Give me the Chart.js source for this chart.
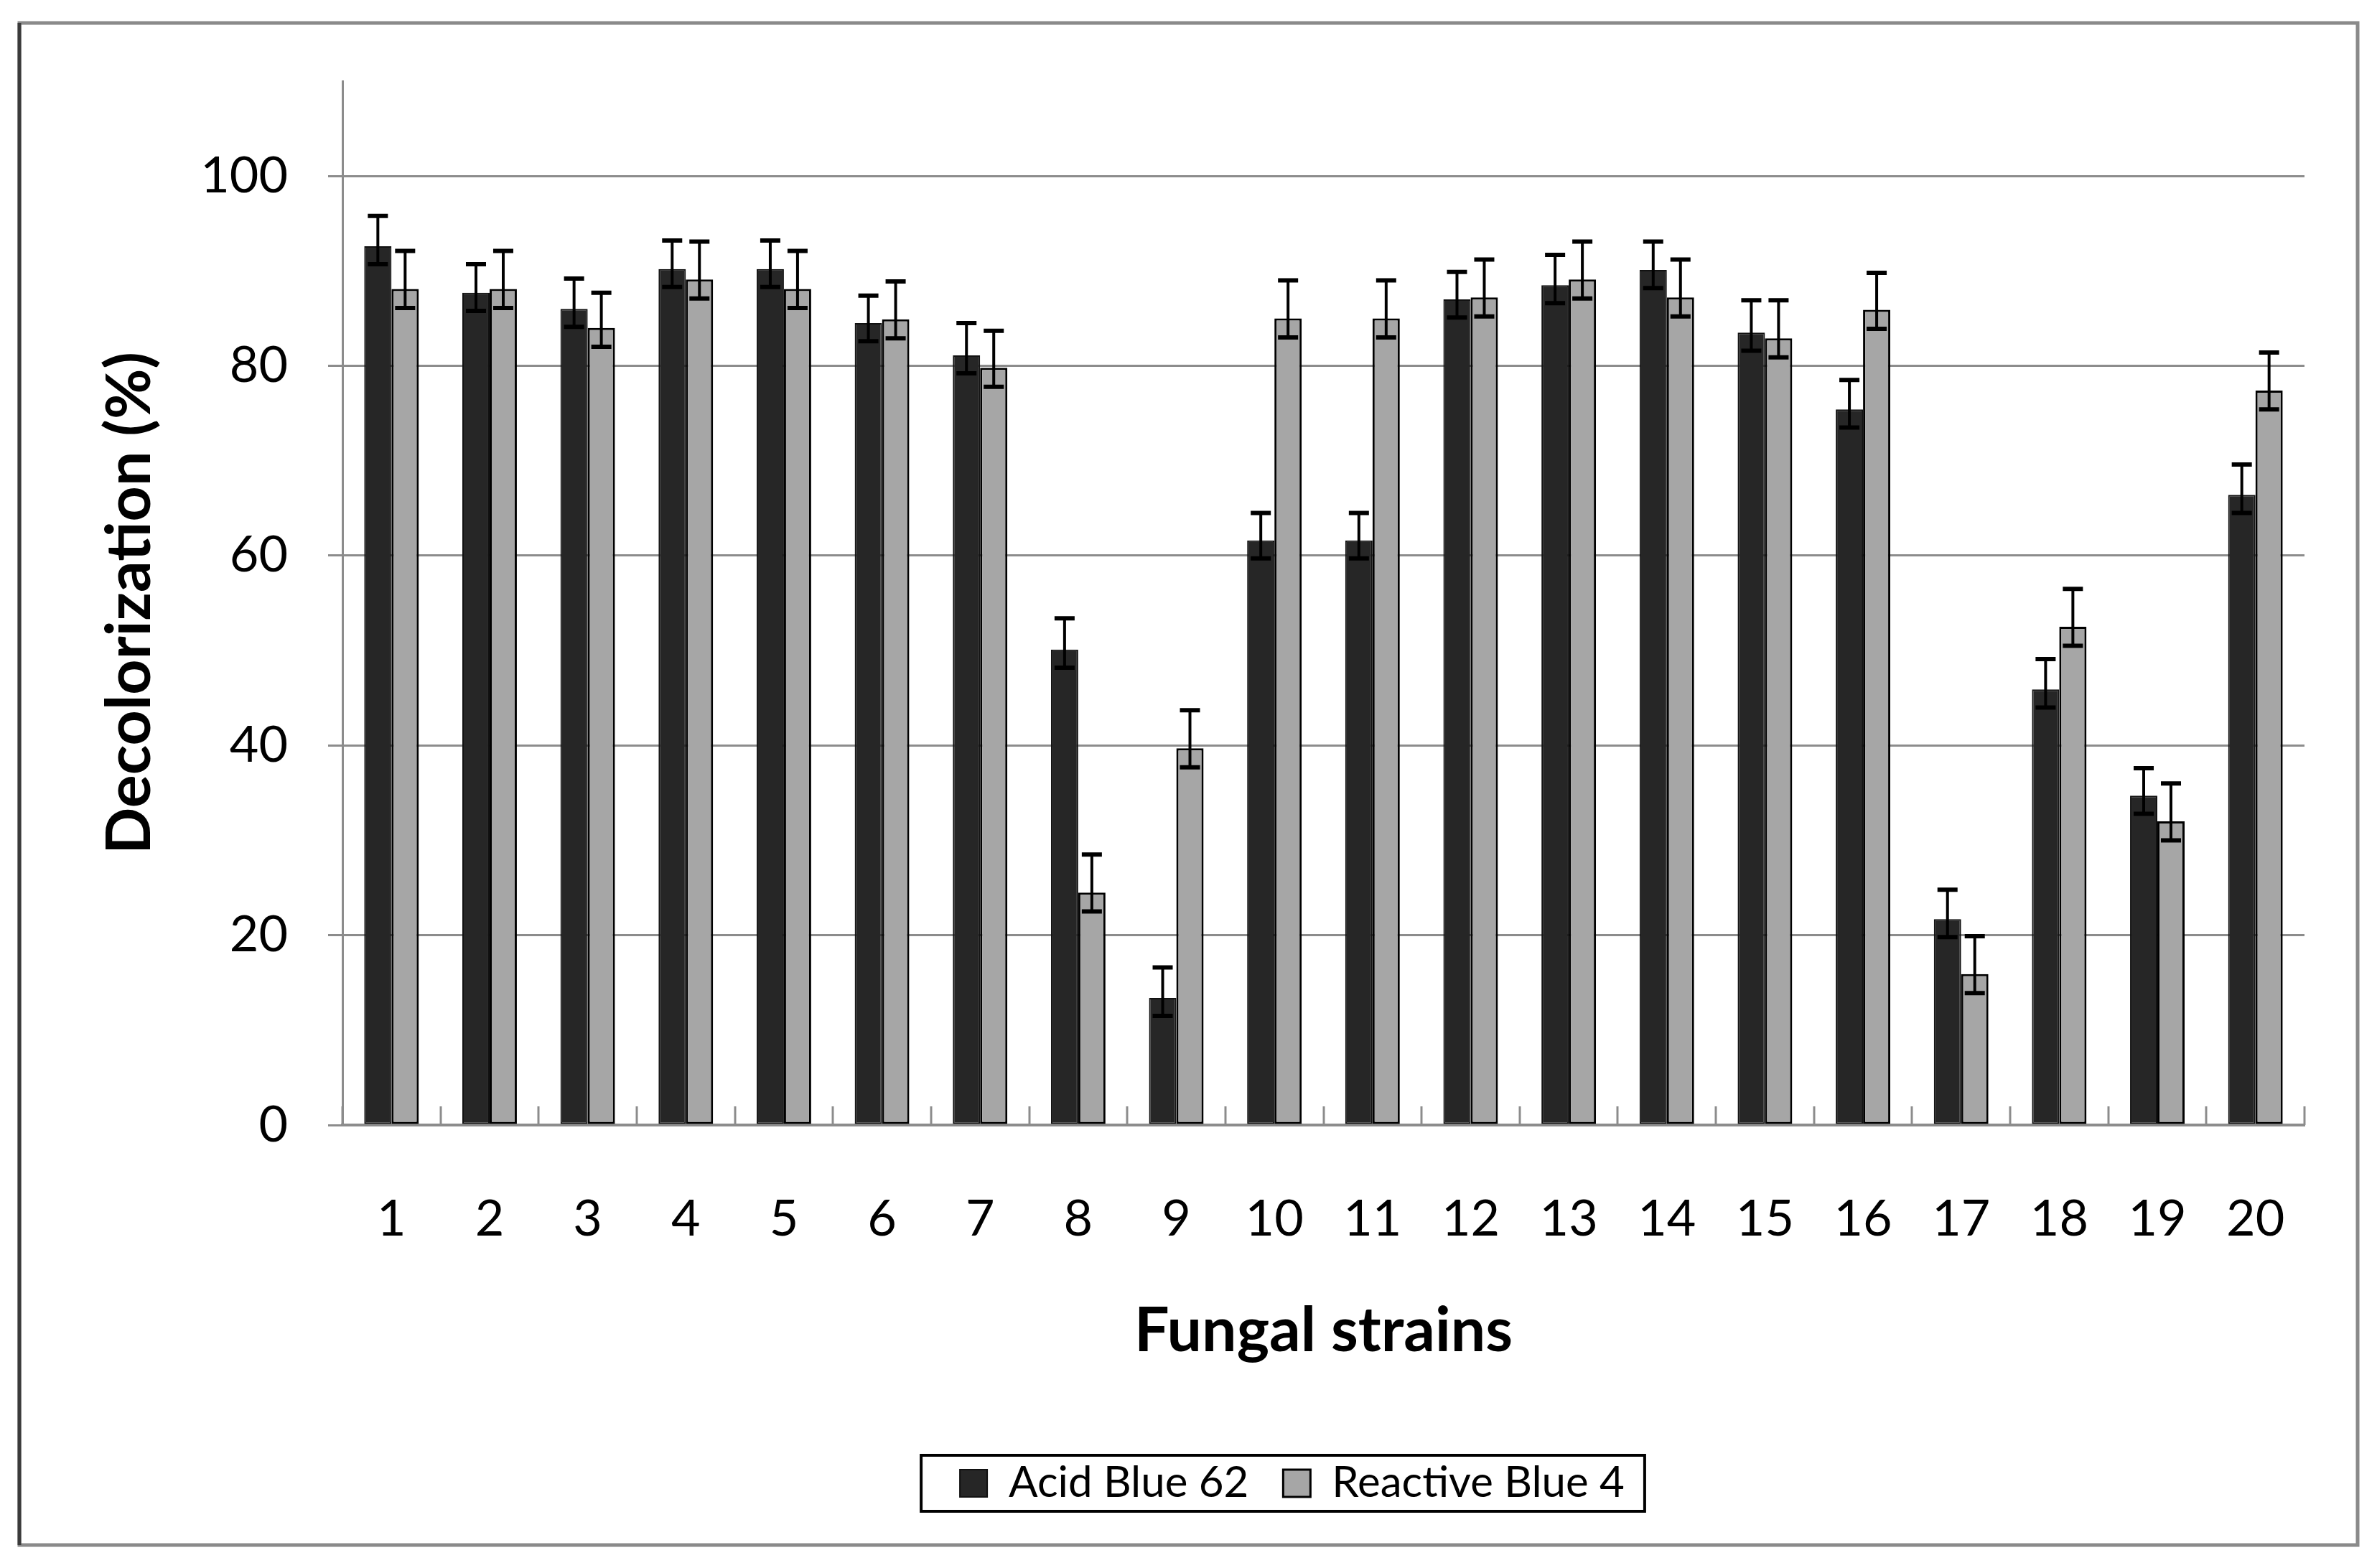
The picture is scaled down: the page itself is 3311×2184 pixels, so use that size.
<!DOCTYPE html>
<html>
<head>
<meta charset="utf-8">
<title>Decolorization by fungal strains</title>
<script src="https://cdn.jsdelivr.net/npm/chart.js@4.4.1/dist/chart.umd.min.js"></script>
<style>
    html, body { margin: 0; padding: 0; background: #ffffff; }
    #wrap { position: relative; width: 3311px; height: 2184px; }
</style>
</head>
<body>
<div id="wrap"><canvas id="decolorChart" width="3311" height="2184"></canvas></div>
<script>
// values (% decolorization per strain)
const strains = ['1', '2', '3', '4', '5', '6', '7', '8', '9', '10',
                 '11', '12', '13', '14', '15', '16', '17', '18', '19', '20'];
const acidBlue62 = [92.6, 87.7, 86.0, 90.2, 90.2, 84.5, 81.1, 50.1, 13.4, 61.6,
                    61.6, 87.0, 88.5, 90.1, 83.5, 75.4, 21.7, 45.9, 34.7, 66.4];
const reactiveBlue4 = [88.1, 88.1, 84.0, 89.1, 88.1, 84.9, 79.8, 24.5, 39.7, 85.0,
                       85.0, 87.2, 89.1, 87.2, 82.9, 85.9, 15.9, 52.5, 32.0, 77.4];
// error bars (upper / lower arm lengths)
const acidErrUp = [3.2, 3.0, 3.2, 3.0, 3.0, 2.9, 3.4, 3.3, 3.2, 2.9,
                   2.9, 2.9, 3.2, 3.0, 3.4, 3.1, 3.1, 3.2, 2.9, 3.2];
const acidErrDown = [1.9, 1.9, 1.9, 1.9, 1.9, 1.9, 1.9, 1.9, 1.9, 1.9,
                     1.9, 1.9, 1.9, 1.9, 1.9, 1.9, 1.9, 1.9, 1.9, 1.9];
const reactiveErrUp = [4.0, 4.0, 3.7, 4.0, 4.0, 4.0, 3.9, 4.0, 4.0, 4.0,
                       4.0, 4.0, 4.0, 4.0, 4.0, 3.9, 4.0, 4.0, 4.0, 4.0];
const reactiveErrDown = [2.0, 2.0, 2.0, 2.0, 2.0, 2.0, 2.0, 2.0, 2.0, 2.0,
                         2.0, 2.0, 2.0, 2.0, 2.0, 2.0, 2.0, 2.0, 2.0, 2.0];
const yTicks = [0, 20, 40, 60, 80, 100];

const gridGrey = '#8c8c8c';
const legendShift = 145; // legend sits under the plot, not the canvas centre

// outer frame around the whole figure
const framePlugin = {
    id: 'frame',
    beforeDraw(chart) {
        const ctx = chart.ctx;
        ctx.save();
        ctx.fillStyle = '#ffffff';
        ctx.fillRect(0, 0, chart.width, chart.height);
        ctx.strokeStyle = '#8a8a8a';
        ctx.lineWidth = 5;
        ctx.strokeRect(27, 32, 3257, 2120);
        ctx.strokeStyle = '#3a3a3a';
        ctx.beginPath();
        ctx.moveTo(27, 32);
        ctx.lineTo(27, 2152);
        ctx.stroke();
        ctx.restore();
    },
    afterLayout(chart) {
        const lg = chart.legend;
        if (!lg) return;
        lg.left += legendShift;
        lg.right += legendShift;
        (lg.legendHitBoxes || []).forEach(b => { b.left += legendShift; });
    }
};

// Excel-style inside tick marks between categories
const xTickPlugin = {
    id: 'xInsideTicks',
    afterDatasetsDraw(chart) {
        const xs = chart.scales.x;
        const ctx = chart.ctx;
        const step = (xs.right - xs.left) / strains.length;
        ctx.save();
        ctx.strokeStyle = gridGrey;
        ctx.lineWidth = 3;
        for (let i = 0; i <= strains.length; i++) {
            const x = Math.round(xs.left + i * step);
            ctx.beginPath();
            ctx.moveTo(x, xs.top);
            ctx.lineTo(x, xs.top - 26);
            ctx.stroke();
        }
        ctx.restore();
    }
};

// error bars drawn through the y scale
const errorBarPlugin = {
    id: 'errorBars',
    afterDatasetsDraw(chart) {
        const ys = chart.scales.y;
        const ctx = chart.ctx;
        const errs = [[acidErrUp, acidErrDown], [reactiveErrUp, reactiveErrDown]];
        ctx.save();
        ctx.strokeStyle = '#000000';
        chart.data.datasets.forEach((ds, di) => {
            const meta = chart.getDatasetMeta(di);
            meta.data.forEach((bar, i) => {
                const v = ds.data[i];
                const yTop = ys.getPixelForValue(v + errs[di][0][i]);
                const yBot = ys.getPixelForValue(v - errs[di][1][i]);
                ctx.lineWidth = 4;
                ctx.beginPath();
                ctx.moveTo(bar.x, yTop);
                ctx.lineTo(bar.x, yBot);
                ctx.stroke();
                ctx.lineWidth = 6;
                ctx.beginPath();
                ctx.moveTo(bar.x - 14, yTop);
                ctx.lineTo(bar.x + 14, yTop);
                ctx.moveTo(bar.x - 14, yBot);
                ctx.lineTo(bar.x + 14, yBot);
                ctx.stroke();
            });
        });
        ctx.restore();
    }
};

// box around the legend items
const legendBoxPlugin = {
    id: 'legendBox',
    afterDraw(chart) {
        const boxes = chart.legend && chart.legend.legendHitBoxes;
        if (!boxes || !boxes.length) return;
        const left = Math.min(...boxes.map(b => b.left)) - 54;
        const right = Math.max(...boxes.map(b => b.left + b.width)) + 28;
        const top = Math.min(...boxes.map(b => b.top));
        const h = Math.max(...boxes.map(b => b.height));
        const cy = top + h / 2;
        const ctx = chart.ctx;
        ctx.save();
        ctx.strokeStyle = '#000000';
        ctx.lineWidth = 4;
        ctx.strokeRect(left, cy - 39, right - left, 78);
        ctx.restore();
    }
};

Chart.defaults.font.family = 'Lato';
Chart.defaults.color = '#000000';

new Chart(document.getElementById('decolorChart'), {
    type: 'bar',
    data: {
        labels: strains,
        datasets: [{
            label: 'Acid Blue 62',
            data: acidBlue62,
            backgroundColor: '#262626',
            borderColor: '#111111',
            borderWidth: 2,
            borderSkipped: false,
            categoryPercentage: 0.556,
            barPercentage: 1.0
        }, {
            label: 'Reactive Blue 4',
            data: reactiveBlue4,
            backgroundColor: '#a6a6a6',
            borderColor: '#000000',
            borderWidth: 3,
            borderSkipped: false,
            categoryPercentage: 0.556,
            barPercentage: 1.0
        }]
    },
    options: {
        responsive: false,
        animation: false,
        layout: {
            padding: { left: 100, right: 101, top: 113, bottom: 78 }
        },
        plugins: {
            tooltip: { enabled: false },
            legend: {
                position: 'bottom',
                labels: {
                    boxWidth: 38,
                    boxHeight: 38,
                    padding: 48,
                    font: { size: 60 },
                    color: '#000000'
                }
            }
        },
        scales: {
            x: {
                grid: { display: false, drawTicks: false },
                border: { color: gridGrey, width: 4 },
                ticks: { font: { size: 70 }, padding: 89, color: '#000000' },
                title: {
                    display: true,
                    text: 'Fungal strains',
                    font: { size: 86, weight: 'bold' },
                    padding: { top: 0, bottom: 82 },
                    color: '#000000'
                },
                afterFit(scale) { scale.height = 421; }
            },
            y: {
                min: 0,
                max: 110,
                afterBuildTicks(scale) {
                    scale.ticks = yTicks.map(v => ({ value: v })).concat([{ value: 110 }]);
                },
                grid: {
                    color: ctx => (ctx.tick && ctx.tick.value === 110 ? 'rgba(0,0,0,0)' : gridGrey),
                    lineWidth: 3,
                    tickLength: 20,
                    drawTicks: true
                },
                border: { color: gridGrey, width: 3 },
                ticks: {
                    font: { size: 70 },
                    padding: 56,
                    color: '#000000',
                    callback: v => (v === 110 ? '' : v)
                },
                title: {
                    display: true,
                    text: 'Decolorization (%)',
                    font: { size: 86, weight: 'bold' },
                    padding: { top: 30, bottom: 0 },
                    color: '#000000'
                },
                afterFit(scale) { scale.width = 377; }
            }
        }
    },
    plugins: [framePlugin, xTickPlugin, errorBarPlugin, legendBoxPlugin]
});
</script>
</body>
</html>
